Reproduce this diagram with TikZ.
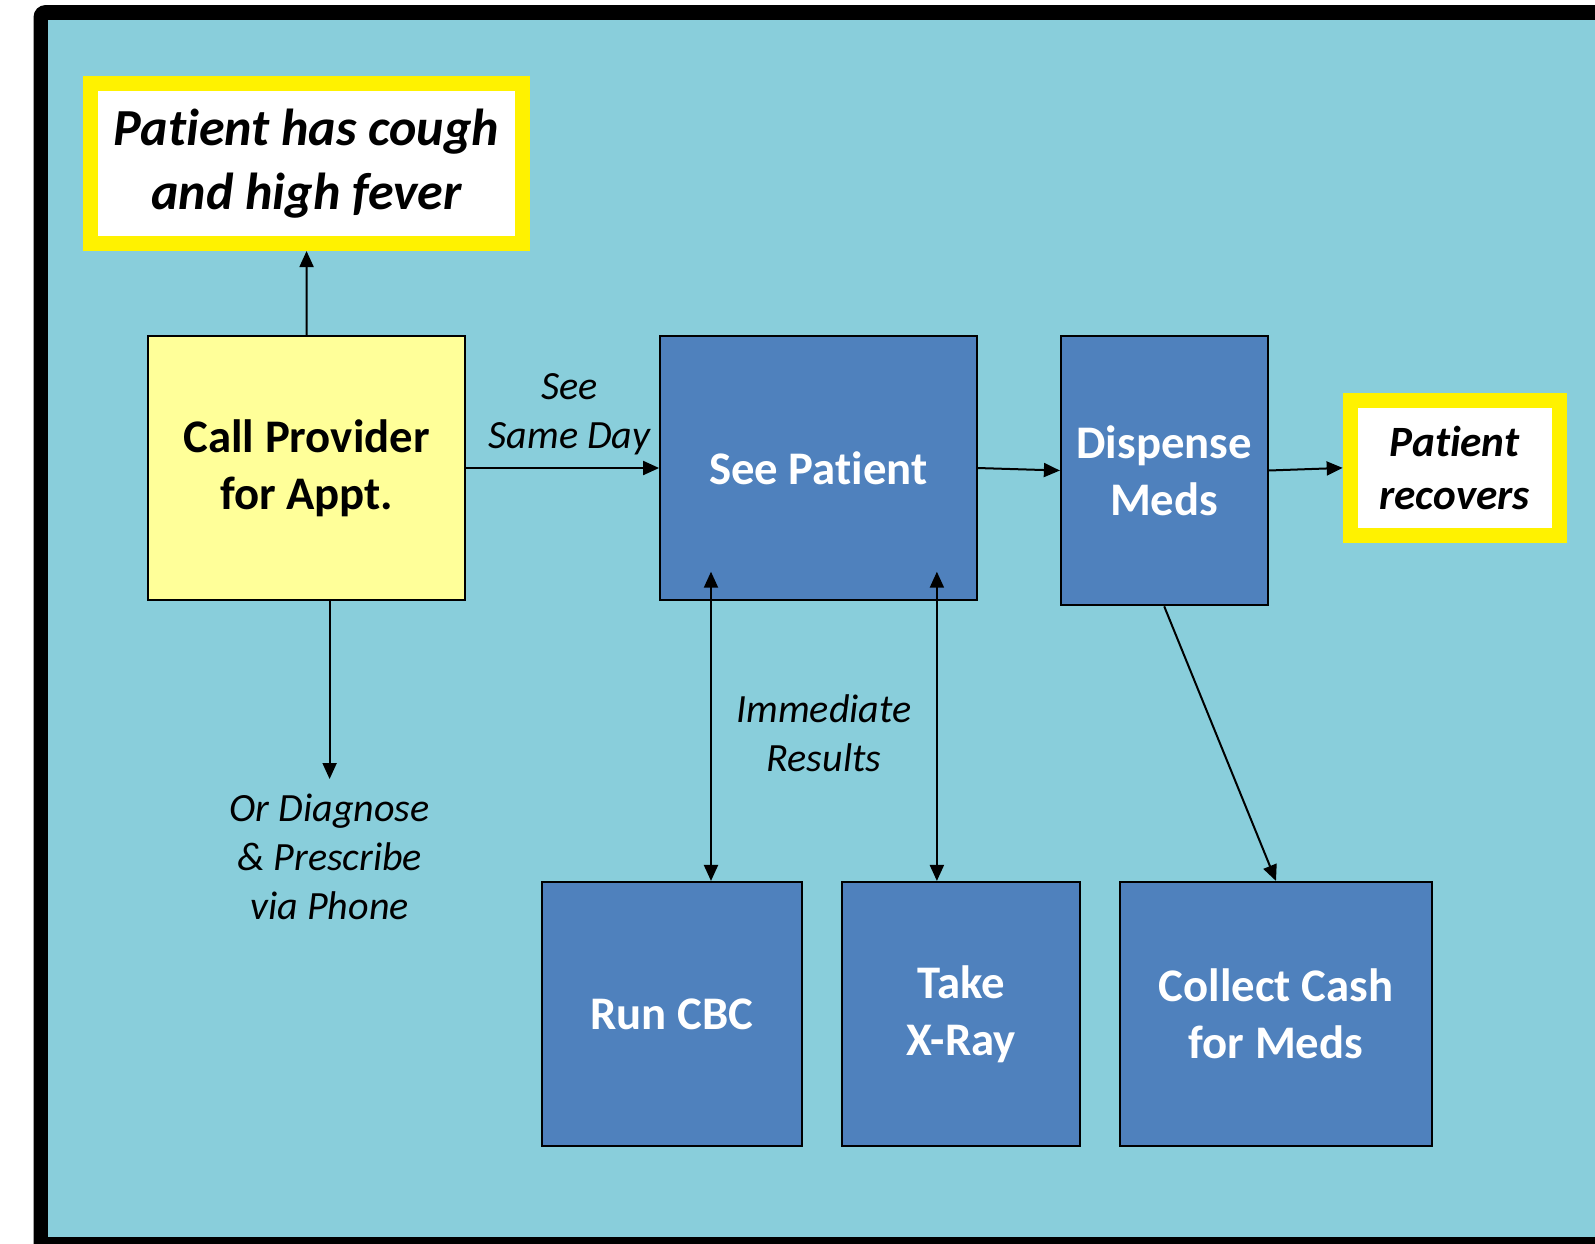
\documentclass[tikz,border=0pt]{standalone}
\usepackage{fontspec}
\setmainfont{Carlito}[Ligatures=NoCommon]
\usetikzlibrary{arrows.meta}
\definecolor{sky}{HTML}{89CEDB}
\definecolor{steel}{HTML}{4F81BD}
\definecolor{pale}{HTML}{FFFF99}
\begin{document}
\begin{tikzpicture}[
        x=1cm, y=-1cm,
        proc/.style={draw, line width=0.02cm, fill=steel, text=white,
            font=\fontsize{13.3}{16.2}\selectfont\bfseries, align=center,
            inner sep=0pt, minimum height=2.645cm},
        call/.style={proc, fill=pale, text=black},
        event/.style={draw=yellow, line width=0.15cm, fill=white,
            align=center, inner sep=0pt},
        note/.style={font=\fontsize{11.4}{13.9}\selectfont\itshape, align=center},
        tip/.tip={Triangle[length=0.16cm, width=0.14cm]},
        link/.style={line width=0.02cm, -tip},
        dlink/.style={line width=0.02cm, tip-tip}
    ]
    \useasboundingbox (0,0) rectangle (15.95,12.43);
    % frame
    \fill[black, rounded corners=0.12cm] (0.335,0.05) rectangle (16.3,12.7);
    \fill[sky] (0.48,0.203) rectangle (16.0,12.37);

    \node[event, font=\fontsize{14.8}{18}\selectfont\bfseries\itshape,
        minimum width=4.32cm, minimum height=1.60cm] (cough) at (3.065,1.635)
        {Patient has cough\\and high fever};
    \node[call, minimum width=3.165cm] (call) at (3.067,4.68) {Call Provider\\for Appt.};
    \node[proc, minimum width=3.164cm] (see) at (8.183,4.68) {See Patient};
    \node[proc, minimum width=2.066cm, minimum height=2.696cm] (disp) at (11.642,4.705)
        {Dispense\\Meds};
    \node[event, font=\fontsize{12.3}{15}\selectfont\bfseries\itshape,
        minimum width=2.088cm, minimum height=1.356cm] (rec) at (14.546,4.679)
        {Patient\\recovers};
    \node[proc, minimum width=2.594cm] (cbc) at (6.719,10.142) {Run CBC};
    \node[proc, minimum width=2.381cm] (xray) at (9.613,10.142) {Take\\X-Ray};
    \node[proc, minimum width=3.123cm] (cash) at (12.76,10.142) {Collect Cash\\for Meds};

    % labels
    \node[note] (sameday) at (5.696,4.14) {See\\Same Day};
    \node[note] (results) at (8.24,7.33) {Immediate\\Results};
    \node[note] (phone) at (3.296,8.565) {Or Diagnose\\\& Prescribe\\via Phone};

    \coordinate (phoneend) at (3.296,7.79);
    \coordinate (cbcend) at (7.11,5.717);
    \coordinate (xrayend) at (9.369,5.717);

    % connectors
    \draw[link] (call) -- (cough);
    \draw[link] (call) -- (see);
    \draw[link] (call.south -| phoneend) -- (phoneend);
    \draw[link] (see.east) -- (disp.west);
    \draw[link] (disp.east) -- (rec.west);
    \draw[dlink] (cbcend) -- (cbc.north -| cbcend);
    \draw[dlink] (xrayend) -- (xray.north -| xrayend);
    \draw[link] (disp.south) -- (cash.north);
\end{tikzpicture}
\end{document}
